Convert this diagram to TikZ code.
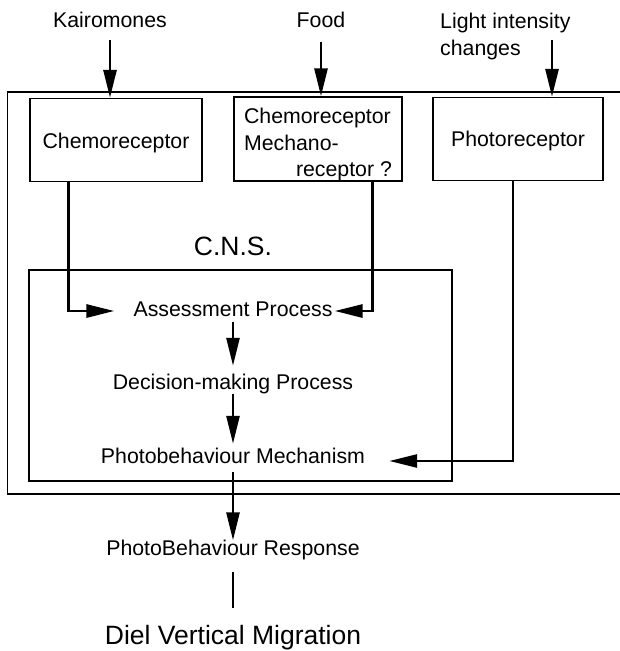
\documentclass[tikz,border=0pt]{standalone}
\usepackage{fontspec}
\setmainfont{Liberation Sans}
\usetikzlibrary{arrows.meta}

\begin{document}
\begin{tikzpicture}
    [x=1pt, y=-1pt,
     txt/.style={inner sep=0pt, text height=15pt, text depth=4pt,
                 font=\fontsize{21.3}{26.5}\selectfont},
     big/.style={inner sep=0pt, text height=19pt, text depth=5.5pt,
                 font=\fontsize{26.5}{32}\selectfont},
     recbox/.style={draw, line width=1.3pt, minimum height=83pt, inner sep=0pt,
                    font=\fontsize{21.3}{26.5}\selectfont},
     cnsbox/.style={draw, line width=2.8pt, minimum width=423pt, minimum height=211pt},
     arr/.style={line width=2.8pt, -{Triangle[length=28pt, width=13pt]}},
     link/.style={line width=2.8pt}]

    \useasboundingbox (0, 0) rectangle (619, 651);

    % outer frame, right side runs off the page
    \draw [line width=1.3pt] (7.3, 92) rectangle (660, 494);

    \node [txt] at (110, 22.2) (kairo) {Kairomones};
    \node [txt] at (321, 22.2) (food) {Food};
    \node [inner sep=0pt, align=left, anchor=north west,
           font=\fontsize{21.3}{26.5}\selectfont]
          at (440, 13.2) (light) {Light intensity\\changes};
    \coordinate (lightin) at (552, 40);

    \node [recbox, minimum width=172pt, text height=21pt, text depth=4.4pt]
          at (116, 140) (chemo) {Chemoreceptor};
    \node [recbox, minimum width=168pt, align=left] at (318, 139) (mecho)
          {\rule{0pt}{26.7pt}Chemoreceptor\\Mechano-\\\hspace*{52pt}receptor ?};
    \node [recbox, minimum width=170pt, text height=20pt, text depth=4.4pt]
          at (518, 139) (photo) {Photoreceptor};

    \node [big] at (233, 248.7) (cnslbl) {C.N.S.};
    \node [cnsbox] at (240.5, 375.5) (cns) {};

    \node [txt] at (233, 311) (assess) {Assessment Process};
    \node [txt] at (233, 384) (decide) {Decision-making Process};
    \node [txt] at (233, 458) (mech) {Photobehaviour Mechanism};
    \node [txt] at (233, 550) (resp) {PhotoBehaviour Response};
    \node [big] at (233, 637.7) (dvm) {Diel Vertical Migration};

    % stimuli
    \draw [arr, shorten <=8.3pt] (kairo) -- (kairo |- chemo.north);
    \draw [arr, shorten <=10pt] (food) -- (food |- mecho.north);
    \draw [arr] (lightin) -- (lightin |- photo.north);

    % receptors into the C.N.S.
    \draw [arr, shorten >=19pt] ([xshift=39pt]chemo.south west) |- (assess.west);
    \draw [arr, shorten >=2pt] ([xshift=-30pt]mecho.south east) |- (assess.east);
    \draw [arr, shorten >=24pt] ([xshift=-5pt]photo.south) |- ([yshift=-3pt]mech.east);

    \draw [arr, shorten <=1.5pt, shorten >=8.5pt] (assess) -- (decide);
    \draw [arr, shorten >=4.5pt] (decide) -- (mech);
    \draw [arr, shorten <=4.5pt] (mech) -- (resp);
    \draw [link, shorten <=12.5pt, shorten >=17.5pt] (resp) -- (dvm);

  \end{tikzpicture}
\end{document}
